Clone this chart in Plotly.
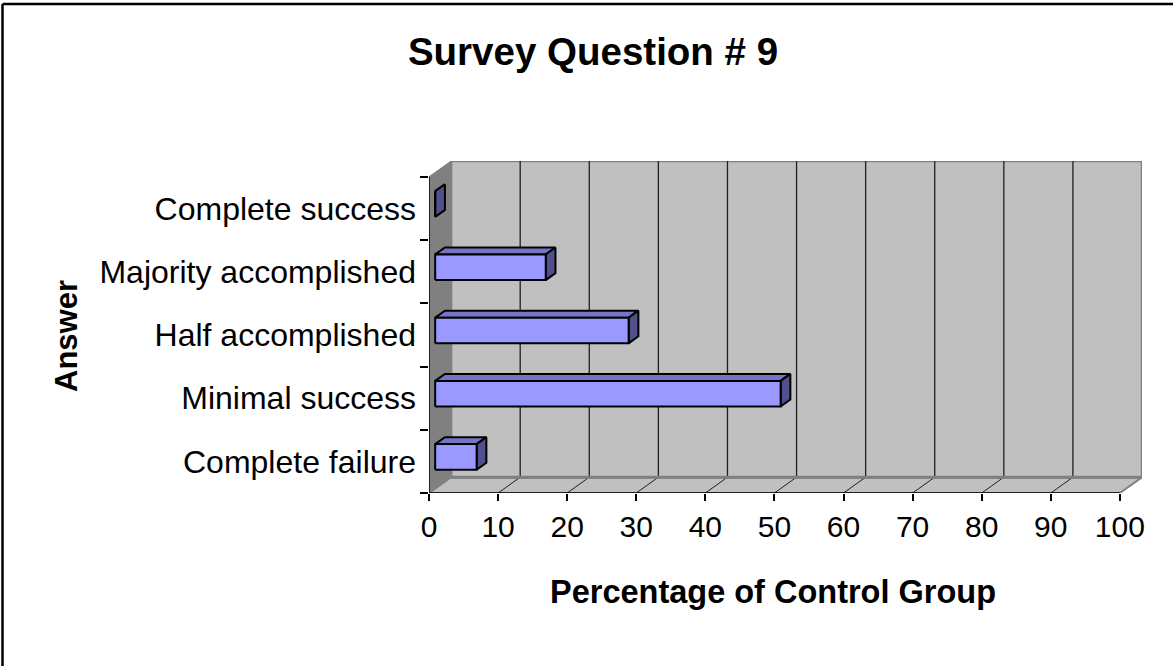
import plotly.graph_objects as go

# Survey responses, percentage of the control group
categories = ["Complete failure", "Minimal success", "Half accomplished",
              "Majority accomplished", "Complete success"]
percentages = [6, 50, 28, 16, 0]
x_ticks = [0, 10, 20, 30, 40, 50, 60, 70, 80, 90, 100]

# Figure geometry (pixels)
W, H = 1173, 666
ML, MR, MT, MB = 429, 31, 161, 173
PW, PH = W - ML - MR, H - MT - MB

# Pseudo-3D depth of the chart box in data units
DX, DY = 3.2, 0.25
XMAX = 100
F1, F2 = 0.28, 0.72      # front / back of the bars inside the depth
BH = 0.203               # half bar height

FRONT = "#9999FF"
TOP = "#7575C8"
SIDE = "#50508C"
WALL = "#C0C0C0"
SIDEWALL = "#808080"

FONT = "Arial, Liberation Sans, sans-serif"

fig = go.Figure()

shapes = []
# left wall
shapes.append(dict(type="path", layer="below",
                   path=f"M0,-0.5 L0,{len(categories)-0.5} L{DX},{len(categories)-0.5+DY} L{DX},{-0.5+DY} Z",
                   fillcolor=SIDEWALL, line=dict(color=SIDEWALL, width=1)))
# floor
shapes.append(dict(type="path", layer="below",
                   path=f"M0,-0.5 L{XMAX},-0.5 L{XMAX+DX},{-0.5+DY} L{DX},{-0.5+DY} Z",
                   fillcolor=WALL, line=dict(color=SIDEWALL, width=2)))
# back wall
shapes.append(dict(type="rect", layer="below", x0=DX, x1=XMAX + DX,
                   y0=-0.5 + DY, y1=len(categories) - 0.5 + DY,
                   fillcolor=WALL, line=dict(color=SIDEWALL, width=2.5)))
# gridlines on the back wall and across the floor
for t in x_ticks[1:-1]:
    shapes.append(dict(type="line", layer="below", x0=t + DX, x1=t + DX,
                       y0=-0.5 + DY, y1=len(categories) - 0.5 + DY,
                       line=dict(color="#202020", width=1.3)))
    shapes.append(dict(type="line", layer="below", x0=t, x1=t + DX,
                       y0=-0.5, y1=-0.5 + DY,
                       line=dict(color="#202020", width=1)))
# floor back edge
shapes.append(dict(type="line", layer="below", x0=DX, x1=XMAX + DX,
                   y0=-0.5 + DY, y1=-0.5 + DY,
                   line=dict(color=SIDEWALL, width=3)))
# front axis lines
shapes.append(dict(type="line", x0=0, x1=XMAX, y0=-0.5, y1=-0.5,
                   line=dict(color="black", width=1.5)))
shapes.append(dict(type="line", x0=0, x1=0, y0=-0.5, y1=len(categories) - 0.5,
                   line=dict(color="black", width=1.5)))

# outer frame (top and left edges)
def px_to_paper_x(px):
    return (px - ML) / PW

def px_to_paper_y(py):
    return 1 - (py - MT) / PH

shapes.append(dict(type="line", xref="paper", yref="paper",
                   x0=px_to_paper_x(2.5), x1=px_to_paper_x(W + 5),
                   y0=px_to_paper_y(4), y1=px_to_paper_y(4),
                   line=dict(color="black", width=2.5)))
shapes.append(dict(type="line", xref="paper", yref="paper",
                   x0=px_to_paper_x(2.5), x1=px_to_paper_x(2.5),
                   y0=px_to_paper_y(4), y1=px_to_paper_y(H + 5),
                   line=dict(color="black", width=2.5)))


def face(xs, ys, color):
    fig.add_trace(go.Scatter(x=xs + [xs[0]], y=ys + [ys[0]], mode="lines",
                             fill="toself", fillcolor=color,
                             line=dict(color="black", width=2),
                             hoverinfo="skip", showlegend=False))


for i, v in enumerate(percentages):
    x0f, x1f = F1 * DX, v + F1 * DX
    x0b, x1b = F2 * DX, v + F2 * DX
    yb_f, yt_f = i - BH + F1 * DY, i + BH + F1 * DY
    yb_b, yt_b = i - BH + F2 * DY, i + BH + F2 * DY
    # top face
    face([x0f, x1f, x1b, x0b], [yt_f, yt_f, yt_b, yt_b], TOP)
    # end face
    face([x1f, x1f, x1b, x1b], [yb_f, yt_f, yt_b, yb_b], SIDE)
    # front face
    face([x0f, x1f, x1f, x0f], [yb_f, yb_f, yt_f, yt_f], FRONT)

fig.update_layout(
    width=W, height=H,
    margin=dict(l=ML, r=MR, t=MT, b=MB),
    paper_bgcolor="white", plot_bgcolor="white",
    shapes=shapes,
    showlegend=False,
    title=dict(text="<b>Survey Question # 9</b>", x=593 / W, xref="container",
               xanchor="center", y=1 - 52 / H, yref="container", yanchor="middle",
               font=dict(family=FONT, size=38.5, color="black")),
    xaxis=dict(range=[0, XMAX + DX], showgrid=False, zeroline=False, showline=False,
               tickmode="array", tickvals=x_ticks, ticktext=[str(t) for t in x_ticks],
               ticks="outside", ticklen=7, tickwidth=1.5, tickcolor="black",
               tickfont=dict(family=FONT, size=30, color="black"),
               fixedrange=True),
    yaxis=dict(range=[-0.5, len(categories) - 0.5 + DY], showgrid=False, zeroline=False,
               showline=False, tickmode="array", tickvals=list(range(len(categories))),
               ticktext=categories, ticks="",
               minor=dict(tickmode="array",
                          tickvals=[k - 0.5 for k in range(len(categories) + 1)],
                          ticks="outside", ticklen=8, tickwidth=1.5, tickcolor="black"),
               ticklabelstandoff=12,
               tickfont=dict(family=FONT, size=32, color="black"),
               fixedrange=True),
    annotations=[
        dict(text="<b>Percentage of Control Group</b>", xref="paper", yref="paper",
             x=px_to_paper_x(773), y=px_to_paper_y(592), xanchor="center", yanchor="middle",
             showarrow=False, font=dict(family=FONT, size=32.5, color="black")),
        dict(text="<b>Answer</b>", xref="paper", yref="paper", textangle=-90,
             x=px_to_paper_x(66), y=px_to_paper_y(336), xanchor="center", yanchor="middle",
             showarrow=False, font=dict(family=FONT, size=31, color="black")),
    ],
)

fig.write_html("out.html")
